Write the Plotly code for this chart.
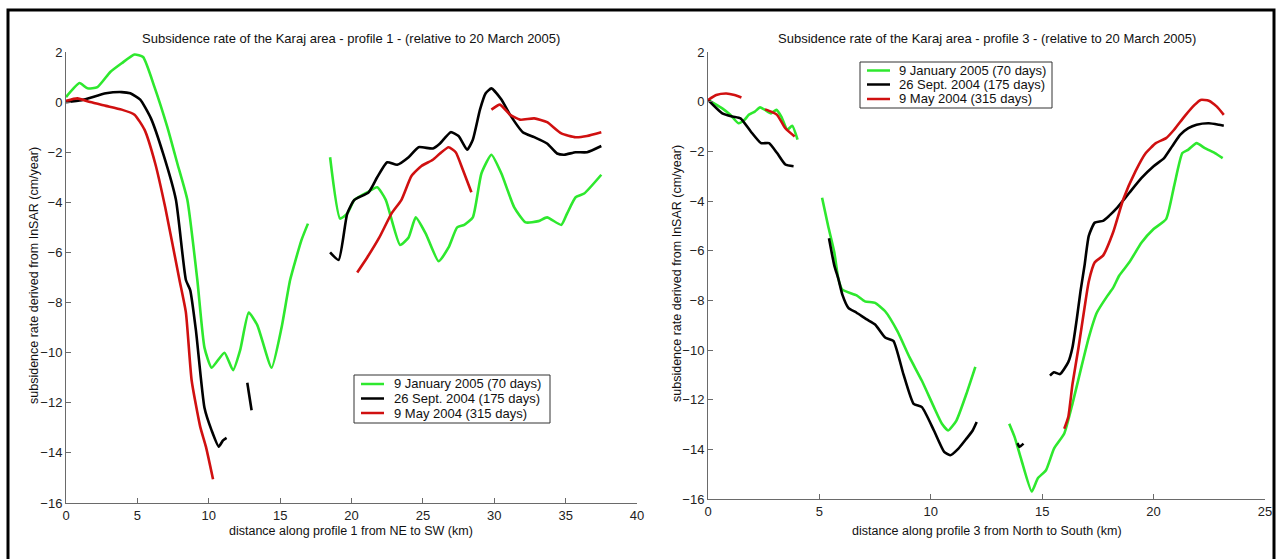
import plotly.graph_objects as go

W, H = 1279, 559

# ---------------- data: profile 1 (left) ----------------
p1_green_x = [[0, 0.95, 1.5, 2.2, 3.1, 3.9, 4.8, 5.4, 6.2, 7.1, 7.8, 8.5, 9.2, 9.7, 10.2, 11.1, 11.7, 12.2, 12.8, 13.4, 14.4, 15.1, 15.7, 16.5, 16.95],
              [18.5, 19.2, 19.7, 20.2, 21.1, 21.8, 22.4, 23.4, 24.0, 24.5, 25.2, 26.1, 26.8, 27.4, 27.9, 28.5, 29.1, 29.8, 30.5, 31.4, 32.2, 33.1, 33.7, 34.7, 35.1, 35.7, 36.3, 37.5]]
p1_green_y = [[0.2, 0.76, 0.55, 0.6, 1.2, 1.55, 1.9, 1.8, 0.6, -1.0, -2.45, -3.9, -7.1, -9.8, -10.6, -10.0, -10.7, -9.9, -8.4, -8.9, -10.6, -9.0, -7.1, -5.5, -4.85],
              [-2.2, -4.65, -4.45, -3.9, -3.6, -3.4, -3.9, -5.7, -5.4, -4.6, -5.25, -6.35, -5.8, -5.0, -4.9, -4.6, -2.85, -2.1, -2.85, -4.2, -4.8, -4.75, -4.6, -4.9, -4.45, -3.8, -3.65, -2.9]]

p1_black_x = [[0, 1.1, 2.8, 3.9, 4.5, 5.2, 5.95, 6.8, 7.7, 8.4, 8.7, 9.1, 9.7, 10.2, 10.7, 11.0, 11.25],
              [12.7, 13.0],
              [18.5, 19.1, 19.7, 20.2, 21.2, 21.8, 22.5, 23.2, 24.0, 24.7, 25.7, 26.2, 26.95, 27.5, 28.1, 28.5, 29.0, 29.4, 29.8, 30.5, 31.1, 32.0, 32.8, 33.7, 34.4, 34.9, 35.7, 36.5, 37.5]]
p1_black_y = [[0.0, 0.08, 0.35, 0.4, 0.35, 0.1, -0.65, -2.05, -3.9, -7.1, -7.5, -9.1, -12.2, -13.1, -13.75, -13.5, -13.4],
              [-11.2, -12.3],
              [-6.0, -6.3, -4.45, -3.9, -3.6, -3.0, -2.4, -2.5, -2.2, -1.8, -1.85, -1.65, -1.2, -1.35, -1.9, -1.5, -0.3, 0.35, 0.55, 0.1, -0.5, -1.2, -1.4, -1.65, -2.05, -2.1, -2.0, -2.0, -1.75]]

p1_red_x = [[0, 0.8, 1.7, 2.8, 3.9, 4.8, 5.5, 6.25, 6.95, 7.95, 8.4, 8.8, 9.4, 9.8, 10.3],
            [20.4, 21.1, 21.95, 22.8, 23.5, 24.2, 24.9, 25.7, 26.2, 26.8, 27.3, 27.8, 28.4],
            [29.8, 30.4, 31.1, 31.8, 32.8, 33.7, 34.7, 35.7, 36.5, 37.5]]
p1_red_y = [[0.05, 0.15, 0.0, -0.15, -0.3, -0.5, -1.1, -2.45, -4.2, -7.1, -8.4, -11.1, -12.95, -13.75, -15.05],
            [-6.8, -6.2, -5.4, -4.45, -3.9, -2.95, -2.55, -2.3, -2.05, -1.8, -2.0, -2.7, -3.6],
            [-0.3, -0.1, -0.5, -0.7, -0.65, -0.8, -1.25, -1.4, -1.35, -1.2]]

# ---------------- data: profile 3 (right) ----------------
p3_green_x = [[0, 0.64, 1.0, 1.37, 1.64, 1.83, 2.1, 2.34, 2.56, 2.83, 3.07, 3.29, 3.56, 3.78, 4.02],
              [5.12, 5.39, 5.67, 5.85, 6.03, 6.67, 7.04, 7.5, 7.95, 8.5, 9.05, 9.6, 10.14, 10.5, 10.78, 11.15, 11.6, 12.0],
              [13.52, 13.76, 14.07, 14.53, 14.8, 15.17, 15.53, 15.99, 16.36, 16.72, 17.09, 17.45, 17.91, 18.18, 18.46, 18.91, 19.46, 20.0, 20.56, 20.92, 21.29, 21.56, 21.93, 22.3, 22.75, 23.1]]
p3_green_y = [[0.07, -0.27, -0.53, -0.87, -0.73, -0.53, -0.4, -0.23, -0.33, -0.47, -0.33, -0.6, -1.13, -0.97, -1.53],
              [-3.87, -5.0, -6.07, -7.13, -7.57, -7.8, -8.04, -8.1, -8.44, -9.24, -10.3, -11.24, -12.3, -12.97, -13.24, -12.84, -11.76, -10.68],
              [-12.97, -13.5, -14.44, -15.7, -15.17, -14.84, -13.97, -13.36, -12.16, -10.83, -9.5, -8.5, -7.84, -7.5, -7.0, -6.47, -5.67, -5.13, -4.73, -3.4, -2.07, -1.93, -1.67, -1.87, -2.07, -2.27]]

p3_black_x = [[0, 0.64, 1.1, 1.46, 1.92, 2.38, 2.74, 3.1, 3.47, 3.84],
              [5.43, 5.67, 5.85, 6.03, 6.3, 6.67, 7.13, 7.5, 7.95, 8.32, 8.77, 9.23, 9.6, 10.14, 10.6, 10.87, 11.24, 11.6, 11.88, 12.06],
              [13.89, 13.98, 14.16],
              [15.35, 15.53, 15.8, 16.17, 16.36, 16.54, 16.72, 16.9, 17.09, 17.36, 17.73, 18.0, 18.37, 18.91, 19.46, 20.0, 20.47, 20.83, 21.2, 21.56, 21.93, 22.48, 22.93, 23.15]]
p3_black_y = [[0.07, -0.47, -0.6, -0.67, -1.2, -1.67, -1.67, -2.07, -2.53, -2.6],
              [-5.5, -6.6, -7.13, -7.77, -8.3, -8.5, -8.77, -8.97, -9.5, -9.63, -10.97, -12.17, -12.3, -13.24, -14.1, -14.24, -13.97, -13.57, -13.24, -12.9],
              [-13.75, -13.9, -13.77],
              [-11.03, -10.9, -10.97, -10.49, -9.89, -8.83, -7.63, -6.6, -5.4, -4.87, -4.8, -4.6, -4.27, -3.67, -3.07, -2.6, -2.27, -1.8, -1.33, -1.07, -0.93, -0.87, -0.93, -0.97]]

p3_red_x = [[0, 0.37, 0.82, 1.19, 1.5],
            [2.56, 2.83, 3.1, 3.47, 3.89],
            [15.99, 16.17, 16.36, 16.63, 16.9, 17.09, 17.36, 17.73, 18.18, 18.64, 19.19, 19.65, 20.1, 20.56, 20.92, 21.38, 21.84, 22.11, 22.48, 22.84, 23.15]]
p3_red_y = [[0.07, 0.27, 0.33, 0.27, 0.17],
            [-0.31, -0.4, -0.53, -1.07, -1.4],
            [-13.17, -12.7, -11.37, -9.9, -8.3, -7.24, -6.47, -6.2, -5.27, -3.93, -2.8, -2.07, -1.67, -1.47, -1.13, -0.6, -0.13, 0.07, 0.04, -0.2, -0.53, -0.87]]

series_names = ["9 January 2005 (70 days)", "26 Sept. 2004 (175 days)", "9 May 2004 (315 days)"]
series_colors = ["#2ee82e", "#000000", "#d01010"]

x_ticks_p1 = [0, 5, 10, 15, 20, 25, 30, 35, 40]
x_ticks_p3 = [0, 5, 10, 15, 20, 25]
y_ticks = [2, 0, -2, -4, -6, -8, -10, -12, -14, -16]

titles = ["Subsidence rate of the Karaj area - profile 1 - (relative to 20 March 2005)",
          "Subsidence rate of the Karaj area - profile 3 - (relative to 20 March 2005)"]
xlabels = ["distance along profile 1 from NE to SW (km)",
           "distance along profile 3 from North to South (km)"]
ylabel = "subsidence rate derived from InSAR (cm/year)"


def join(segs):
    out = []
    for i, s in enumerate(segs):
        if i:
            out.append(None)
        out.extend(s)
    return out


fig = go.Figure()

panels = [
    ("x", "y", [(p1_green_x, p1_green_y), (p1_black_x, p1_black_y), (p1_red_x, p1_red_y)]),
    ("x2", "y2", [(p3_green_x, p3_green_y), (p3_black_x, p3_black_y), (p3_red_x, p3_red_y)]),
]
for xa, ya, data in panels:
    for (sx, sy), name, col in zip(data, series_names, series_colors):
        fig.add_trace(go.Scatter(x=join(sx), y=join(sy), mode="lines", name=name,
                                 line=dict(color=col, width=2.6, shape="spline", smoothing=0.5),
                                 connectgaps=False, xaxis=xa, yaxis=ya, showlegend=False))


def px(v):
    return v / W


def py(v):
    return 1 - v / H


FONT = "Liberation Sans, Arial"
axis_common = dict(showline=True, linecolor="#6a6a6a", linewidth=1, ticks="inside",
                   ticklen=5, tickcolor="#6a6a6a", showgrid=False, zeroline=False,
                   mirror=False, automargin=False,
                   tickfont=dict(family=FONT, size=13, color="#222"))

fig.update_layout(
    width=W, height=H, margin=dict(l=0, r=0, t=0, b=0, pad=0, autoexpand=False),
    paper_bgcolor="white", plot_bgcolor="white", showlegend=False,
    xaxis=dict(domain=[px(66), px(637)], range=[0, 40], tickvals=x_ticks_p1, anchor="y", **axis_common),
    yaxis=dict(domain=[py(503), py(52)], range=[-16, 2], tickvals=y_ticks, anchor="x", **axis_common),
    xaxis2=dict(domain=[px(708), px(1265)], range=[0, 25], tickvals=x_ticks_p3, anchor="y2", **axis_common),
    yaxis2=dict(domain=[py(499), py(52)], range=[-16, 2], tickvals=y_ticks, anchor="x2", **axis_common),
)

ann = []
shapes = []
font_t = dict(family=FONT, size=13, color="#111")
font_l = dict(family=FONT, size=12.5, color="#111")
for cx, t in zip([351, 987], titles):
    ann.append(dict(x=px(cx), y=py(38), xref="paper", yref="paper", text=t, showarrow=False,
                    xanchor="center", yanchor="middle", font=font_t))
for cx, t in zip([351, 987], xlabels):
    ann.append(dict(x=px(cx), y=py(531), xref="paper", yref="paper", text=t, showarrow=False,
                    xanchor="center", yanchor="middle", font=font_l))
for cx, cy in [(34, 276), (677, 274)]:
    ann.append(dict(x=px(cx), y=py(cy), xref="paper", yref="paper", text=ylabel, showarrow=False,
                    textangle=-90, xanchor="center", yanchor="middle", font=font_l))

# legend boxes (one per panel): box extents, sample-line x span, text x, row y positions
legends = [
    dict(box=(354, 375, 550, 423), line=(361, 384), tx=392, rows=(384, 398.5, 413)),
    dict(box=(860, 62, 1052, 108), line=(867, 890), tx=897, rows=(70.5, 84.5, 99)),
]
for lg in legends:
    x0, y0, x1, y1 = lg["box"]
    shapes.append(dict(type="rect", xref="paper", yref="paper", x0=px(x0), x1=px(x1), y0=py(y1), y1=py(y0),
                       line=dict(color="#333", width=1), fillcolor="white", layer="above"))
    for ry, name, col in zip(lg["rows"], series_names, series_colors):
        shapes.append(dict(type="line", xref="paper", yref="paper", x0=px(lg["line"][0]), x1=px(lg["line"][1]),
                           y0=py(ry), y1=py(ry), line=dict(color=col, width=2.5), layer="above"))
        ann.append(dict(x=px(lg["tx"]), y=py(ry), xref="paper", yref="paper", text=name, showarrow=False,
                        xanchor="left", yanchor="middle", font=dict(family=FONT, size=13, color="#111")))

# outer frame of the picture (open at the bottom)
shapes.append(dict(type="rect", xref="paper", yref="paper", x0=px(8), x1=px(1274), y0=-0.05, y1=py(10),
                   line=dict(color="black", width=3), fillcolor="rgba(0,0,0,0)", layer="above"))

fig.update_layout(annotations=ann, shapes=shapes)

fig.write_html("out.html")
